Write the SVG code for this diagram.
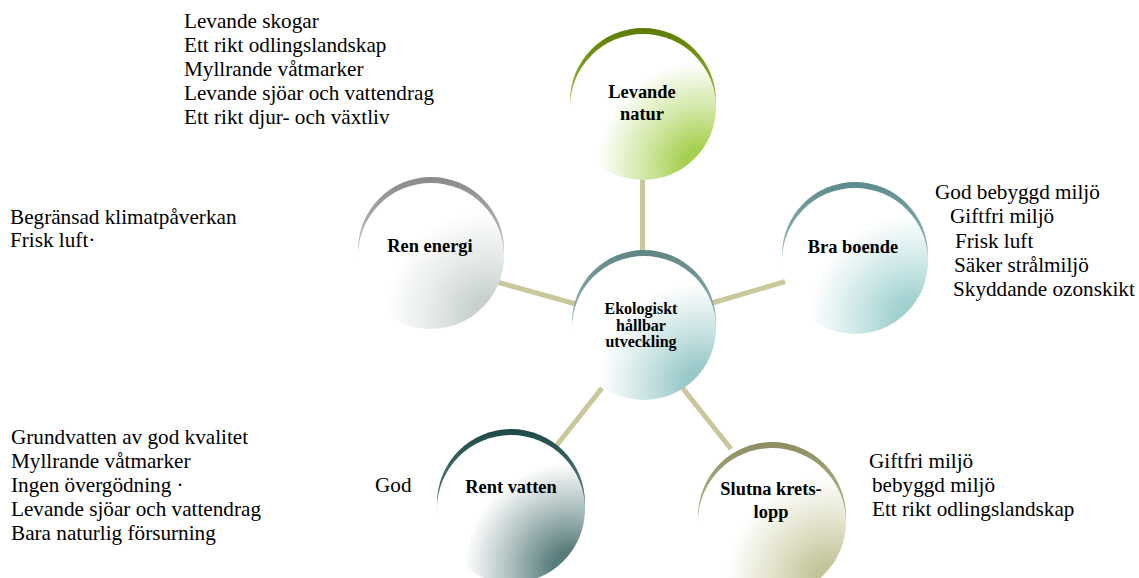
<svg xmlns="http://www.w3.org/2000/svg" width="1139" height="578" viewBox="0 0 1139 578">
<defs>
<style>
.lst{font-family:"Liberation Serif","Times New Roman",serif;font-size:21.2px;fill:#000}
.lbl{font-family:"Liberation Serif","Times New Roman",serif;font-size:18.4px;font-weight:bold;fill:#000;text-anchor:middle}
.lblc{font-family:"Liberation Serif","Times New Roman",serif;font-size:16px;font-weight:bold;fill:#000;text-anchor:middle}
.con{stroke:#c9c79b;stroke-width:5;stroke-linecap:butt;fill:none}
</style>
<radialGradient id="fGreen" cx="0.9" cy="0.9" r="0.95"><stop offset="0" stop-color="#a5cf4f"/><stop offset="0.12" stop-color="#a5cf4f"/><stop offset="0.42" stop-color="#d2e8a8"/><stop offset="0.75" stop-color="#ffffff"/></radialGradient>
<radialGradient id="fTealC" cx="0.9" cy="0.9" r="0.95"><stop offset="0" stop-color="#98c8c8"/><stop offset="0.12" stop-color="#98c8c8"/><stop offset="0.42" stop-color="#cce4e4"/><stop offset="0.75" stop-color="#ffffff"/></radialGradient>
<radialGradient id="fGrey" cx="0.9" cy="0.9" r="0.95"><stop offset="0" stop-color="#c8d0d0"/><stop offset="0.12" stop-color="#c8d0d0"/><stop offset="0.42" stop-color="#e6eaea"/><stop offset="0.75" stop-color="#ffffff"/></radialGradient>
<radialGradient id="fTeal" cx="0.9" cy="0.9" r="0.95"><stop offset="0" stop-color="#a0d0d0"/><stop offset="0.12" stop-color="#a0d0d0"/><stop offset="0.42" stop-color="#d0e8e8"/><stop offset="0.75" stop-color="#ffffff"/></radialGradient>
<radialGradient id="fDark" cx="0.9" cy="0.9" r="0.95"><stop offset="0" stop-color="#587c7c"/><stop offset="0.12" stop-color="#587c7c"/><stop offset="0.42" stop-color="#abbdbd"/><stop offset="0.75" stop-color="#ffffff"/></radialGradient>
<radialGradient id="fOlive" cx="0.9" cy="0.9" r="0.95"><stop offset="0" stop-color="#c4c49a"/><stop offset="0.12" stop-color="#c4c49a"/><stop offset="0.42" stop-color="#e2e2cc"/><stop offset="0.75" stop-color="#ffffff"/></radialGradient>
<linearGradient id="rGreen" x1="0" y1="0" x2="0" y2="1"><stop offset="0" stop-color="#5b7b00"/><stop offset="0.5" stop-color="#9aba40"/></linearGradient>
<linearGradient id="rTealC" x1="0" y1="0" x2="0" y2="1"><stop offset="0" stop-color="#5e8484"/><stop offset="0.5" stop-color="#9ab8b8"/></linearGradient>
<linearGradient id="rGrey" x1="0" y1="0" x2="0" y2="1"><stop offset="0" stop-color="#8a8a8a"/><stop offset="0.5" stop-color="#c0c0c0"/></linearGradient>
<linearGradient id="rTeal" x1="0" y1="0" x2="0" y2="1"><stop offset="0" stop-color="#5c8a8a"/><stop offset="0.5" stop-color="#98bcbc"/></linearGradient>
<linearGradient id="rDark" x1="0" y1="0" x2="0" y2="1"><stop offset="0" stop-color="#1e4848"/><stop offset="0.5" stop-color="#5a7e7e"/></linearGradient>
<linearGradient id="rOlive" x1="0" y1="0" x2="0" y2="1"><stop offset="0" stop-color="#8e8e62"/><stop offset="0.5" stop-color="#b8b890"/></linearGradient>
</defs>
<rect width="1139" height="578" fill="#ffffff"/>
<g id="connectors">
<line class="con" x1="642.5" y1="175" x2="642.5" y2="258"/>
<line class="con" x1="497" y1="282" x2="576" y2="304"/>
<line class="con" x1="787" y1="281" x2="712" y2="303"/>
<line class="con" x1="553" y1="450" x2="602" y2="388"/>
<line class="con" x1="681" y1="386" x2="731" y2="449"/>
</g>
<g id="node-levande-natur">
<circle cx="643" cy="101" r="73" fill="url(#rGreen)"/>
<circle cx="643" cy="107" r="73" fill="url(#fGreen)"/>
<text class="lbl" x="642" y="98">Levande</text>
<text class="lbl" x="642" y="120">natur</text>
</g>
<g id="node-ren-energi">
<circle cx="431" cy="250" r="73" fill="url(#rGrey)"/>
<circle cx="431" cy="256" r="73" fill="url(#fGrey)"/>
<text class="lbl" x="430" y="252">Ren energi</text>
</g>
<g id="node-bra-boende">
<circle cx="855" cy="255" r="73" fill="url(#rTeal)"/>
<circle cx="855" cy="261" r="73" fill="url(#fTeal)"/>
<text class="lbl" x="853" y="253">Bra boende</text>
</g>
<g id="node-center">
<circle cx="644" cy="322" r="72" fill="url(#rTealC)"/>
<circle cx="644" cy="328" r="72" fill="url(#fTealC)"/>
<text class="lblc" x="641" y="314">Ekologiskt</text>
<text class="lblc" x="641" y="331">hållbar</text>
<text class="lblc" x="641" y="347">utveckling</text>
</g>
<g id="node-rent-vatten">
<circle cx="511" cy="503" r="74" fill="url(#rDark)"/>
<circle cx="511" cy="509" r="74" fill="url(#fDark)"/>
<text class="lbl" x="511" y="493">Rent vatten</text>
</g>
<g id="node-slutna-kretslopp">
<circle cx="772" cy="516" r="74" fill="url(#rOlive)"/>
<circle cx="772" cy="522" r="74" fill="url(#fOlive)"/>
<text class="lbl" x="771" y="495">Slutna krets-</text>
<text class="lbl" x="771" y="518">lopp</text>
</g>
<g id="texts">
<text class="lst" x="184" y="28">Levande skogar</text>
<text class="lst" x="184" y="52">Ett rikt odlingslandskap</text>
<text class="lst" x="184" y="76">Myllrande våtmarker</text>
<text class="lst" x="184" y="100">Levande sjöar och vattendrag</text>
<text class="lst" x="184" y="124">Ett rikt djur- och växtliv</text>
<text class="lst" x="10" y="224">Begränsad klimatpåverkan</text>
<text class="lst" x="10" y="247">Frisk luft·</text>
<text class="lst" x="935" y="199">God bebyggd miljö</text>
<text class="lst" x="950" y="223">Giftfri miljö</text>
<text class="lst" x="955" y="248">Frisk luft</text>
<text class="lst" x="954" y="272">Säker strålmiljö</text>
<text class="lst" x="953" y="296">Skyddande ozonskikt</text>
<text class="lst" x="11" y="444">Grundvatten av god kvalitet</text>
<text class="lst" x="11" y="468">Myllrande våtmarker</text>
<text class="lst" x="11" y="492">Ingen övergödning ·</text>
<text class="lst" x="11" y="516">Levande sjöar och vattendrag</text>
<text class="lst" x="11" y="540">Bara naturlig försurning</text>
<text class="lst" x="375" y="492">God</text>
<text class="lst" x="869" y="468">Giftfri miljö</text>
<text class="lst" x="872" y="492">bebyggd miljö</text>
<text class="lst" x="872" y="516">Ett rikt odlingslandskap</text>
</g>
</svg>
